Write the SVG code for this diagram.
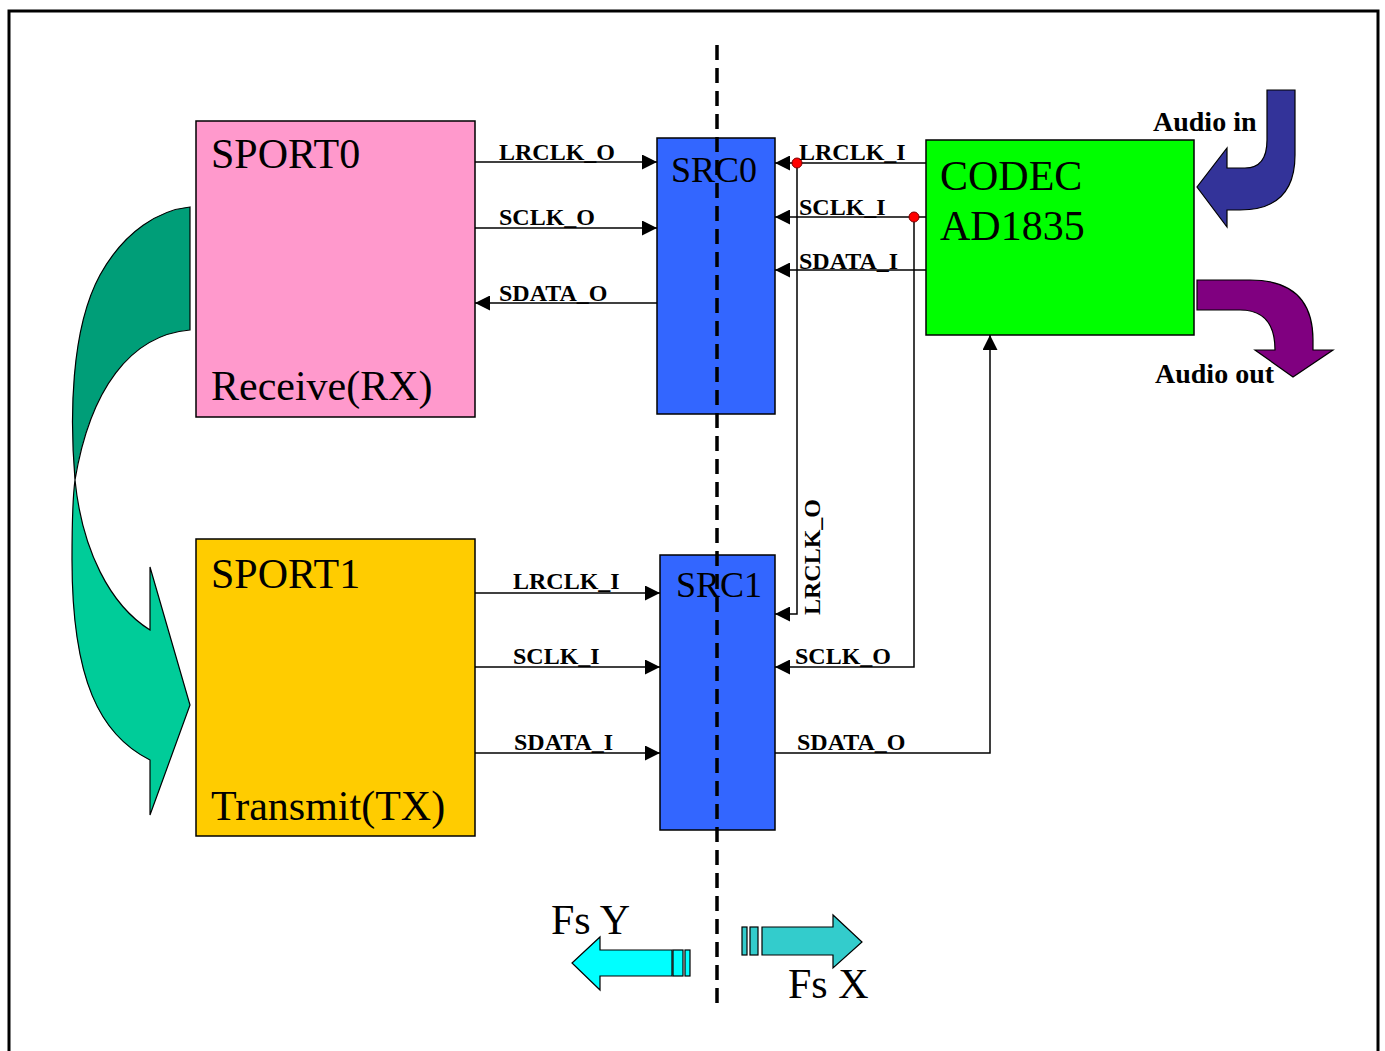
<svg xmlns="http://www.w3.org/2000/svg" width="1385" height="1051" viewBox="0 0 1385 1051">
<defs>
<style>
.blk{stroke:#000;stroke-width:1.5}
.big{font-family:"Liberation Serif",serif;font-size:42px;fill:#000}
.src{font-family:"Liberation Serif",serif;font-size:36px;fill:#000}
.lbl{font-family:"Liberation Serif",serif;font-size:24px;font-weight:bold;fill:#000}
.aud{font-family:"Liberation Serif",serif;font-size:28px;font-weight:bold;fill:#000}
.wire{fill:none;stroke:#000;stroke-width:1.5}
.shape{stroke:#000;stroke-width:1.2}
</style>
<marker id="ah" viewBox="0 0 10 10" refX="10" refY="5" markerWidth="17" markerHeight="15" markerUnits="userSpaceOnUse" orient="auto">
<path d="M0,0 L10,5 L0,10 Z" fill="#000"/>
</marker>
</defs>
<rect x="0" y="0" width="1385" height="1051" fill="#fff"/>
<rect x="9" y="11" width="1369" height="1045" fill="none" stroke="#000" stroke-width="3"/>

<g id="loop-arrow">
<path class="shape" fill="#009E78" d="M190,207 L190,330 C130,335 90,390 75,480 C70,420 70,330 100,275 C125,230 160,210 190,207 Z"/>
<path class="shape" fill="#00CC99" d="M75,480 C82,550 110,605 150,630 L150,567 L190,705 L150,815 L150,760 C100,735 72,680 72,560 C72,520 73,495 75,480 Z"/>
</g>

<g id="sport0">
<rect x="196" y="121" width="279" height="296" fill="#FF99CC" class="blk"/>
<text class="big" x="211" y="168">SPORT0</text>
<text class="big" x="211" y="400">Receive(RX)</text>
</g>
<g id="sport1">
<rect x="196" y="539" width="279" height="297" fill="#FFCC00" class="blk"/>
<text class="big" x="211" y="588">SPORT1</text>
<text class="big" x="211" y="820">Transmit(TX)</text>
</g>
<g id="src0">
<rect x="657" y="138" width="118" height="276" fill="#3366FF" class="blk"/>
<text class="src" x="671" y="182">SRC0</text>
</g>
<g id="src1">
<rect x="660" y="555" width="115" height="275" fill="#3366FF" class="blk"/>
<text class="src" x="676" y="597">SRC1</text>
</g>
<g id="codec">
<rect x="926" y="140" width="268" height="195" fill="#00FF00" class="blk"/>
<text class="big" x="940" y="190">CODEC</text>
<text class="big" x="940" y="240">AD1835</text>
</g>

<g id="audio-in">
<path class="shape" fill="#333399" d="M1267,90 L1295,90 L1295,155 Q1295,210 1240,210 L1227,210 L1227,227 L1197,187 L1227,148 L1227,168 L1245,168 Q1267,168 1267,140 Z"/>
<text class="aud" x="1153" y="131">Audio in</text>
</g>
<g id="audio-out">
<path class="shape" fill="#800080" d="M1197,280 L1250,280 Q1313,280 1313,340 L1313,350 L1333,350 L1293,377 L1255,350 L1275,350 Q1275,310 1240,310 L1197,310 Z"/>
<text class="aud" x="1155" y="383">Audio out</text>
</g>

<g id="connectors">
<line class="wire" x1="475" y1="162" x2="657" y2="162" marker-end="url(#ah)"/>
<line class="wire" x1="475" y1="228" x2="657" y2="228" marker-end="url(#ah)"/>
<line class="wire" x1="657" y1="303" x2="475" y2="303" marker-end="url(#ah)"/>
<line class="wire" x1="926" y1="163" x2="775" y2="163" marker-end="url(#ah)"/>
<line class="wire" x1="926" y1="217" x2="775" y2="217" marker-end="url(#ah)"/>
<line class="wire" x1="926" y1="270" x2="775" y2="270" marker-end="url(#ah)"/>
<polyline class="wire" points="797,163 797,614 775,614" marker-end="url(#ah)"/>
<polyline class="wire" points="914,217 914,667 775,667" marker-end="url(#ah)"/>
<polyline class="wire" points="775,753 990,753 990,335" marker-end="url(#ah)"/>
<line class="wire" x1="475" y1="593" x2="660" y2="593" marker-end="url(#ah)"/>
<line class="wire" x1="475" y1="667" x2="660" y2="667" marker-end="url(#ah)"/>
<line class="wire" x1="475" y1="753" x2="660" y2="753" marker-end="url(#ah)"/>
<circle cx="797" cy="163" r="5" fill="#FF0000" stroke="#800000" stroke-width="1"/>
<circle cx="914" cy="217" r="5" fill="#FF0000" stroke="#800000" stroke-width="1"/>
<text class="lbl" x="499" y="160">LRCLK_O</text>
<text class="lbl" x="499" y="225">SCLK_O</text>
<text class="lbl" x="499" y="301">SDATA_O</text>
<text class="lbl" x="799" y="160">LRCLK_I</text>
<text class="lbl" x="799" y="215">SCLK_I</text>
<text class="lbl" x="799" y="269">SDATA_I</text>
<text class="lbl" transform="translate(820,615) rotate(-90)">LRCLK_O</text>
<text class="lbl" x="795" y="664">SCLK_O</text>
<text class="lbl" x="797" y="750">SDATA_O</text>
<text class="lbl" x="513" y="589">LRCLK_I</text>
<text class="lbl" x="513" y="664">SCLK_I</text>
<text class="lbl" x="514" y="750">SDATA_I</text>
</g>

<line x1="717" y1="45" x2="717" y2="1005" stroke="#000" stroke-width="3.5" stroke-dasharray="15,8"/>

<g id="fs-y">
<path class="shape" fill="#00FFFF" d="M672,950 L600,950 L600,937 L572,963 L600,990 L600,976 L672,976 Z"/>
<rect class="shape" x="673" y="950" width="10" height="26" fill="#00FFFF"/>
<rect class="shape" x="685" y="950" width="5" height="26" fill="#00FFFF"/>
<text class="big" x="551" y="934">Fs Y</text>
</g>
<g id="fs-x">
<rect class="shape" x="742" y="927" width="5" height="28" fill="#33CCCC"/>
<rect class="shape" x="750" y="927" width="8" height="28" fill="#33CCCC"/>
<path class="shape" fill="#33CCCC" d="M762,927 L833,927 L833,915 L862,942 L833,968 L833,955 L762,955 Z"/>
<text class="big" x="788" y="998">Fs X</text>
</g>
</svg>
